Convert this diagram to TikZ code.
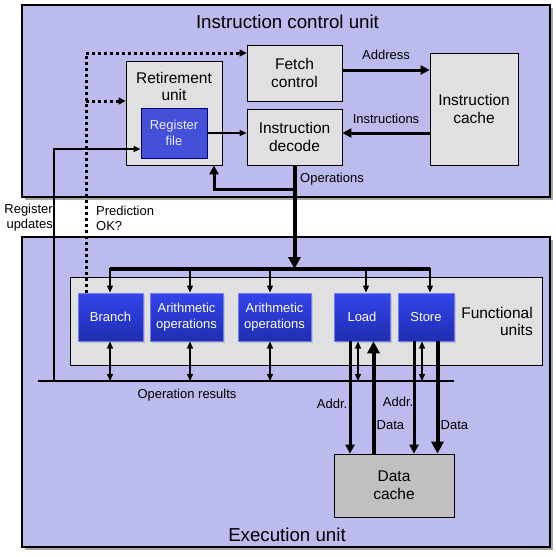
\documentclass[tikz,border=0pt]{standalone}
\usepackage{fontspec}
\setmainfont{Liberation Sans}
\usetikzlibrary{arrows.meta,shadows,calc}
\definecolor{lav}{HTML}{BBBBEE}
\definecolor{lgray}{HTML}{E0E0E0}
\definecolor{dgray}{HTML}{C0C0C0}
\definecolor{blutop}{HTML}{3444EC}
\definecolor{blubot}{HTML}{1F2EB0}
\definecolor{regblue}{HTML}{4450D8}
\begin{document}
\begin{tikzpicture}[x=1pt,y=-1pt,
  bigbox/.style={draw=black, line width=1.3pt, fill=lav, inner sep=0pt,
    drop shadow={shadow xshift=2.5pt, shadow yshift=-2.5pt, opacity=0.7}},
  graybox/.style={draw=black, line width=0.8pt, fill=lgray, inner sep=0pt, align=center,
    font=\fontsize{15.5}{18}\selectfont},
  fubox/.style={draw=blutop!70!white, line width=0.6pt, top color=blutop, bottom color=blubot,
    text=white, inner sep=0pt, align=center, font=\fontsize{13}{16}\selectfont,
    drop shadow={shadow xshift=1.5pt, shadow yshift=-1.5pt, opacity=0.3}},
  lbl/.style={font=\fontsize{13}{15}\selectfont, inner sep=0pt},
  title/.style={font=\fontsize{18.7}{22}\selectfont, inner sep=0pt},
  thin/.style={line width=1.3pt, -{Triangle[length=7pt,width=6pt]}},
  dbl/.style={line width=1.3pt, {Triangle[length=7pt,width=6pt]}-{Triangle[length=7pt,width=6pt]}},
  thickarr/.style={line width=3pt, -{Triangle[length=9pt,width=9pt]}},
  heavyarr/.style={line width=4pt, -{Triangle[length=12pt,width=12pt]}},
  dotline/.style={line width=3pt, dash pattern=on 3pt off 3pt},
]
\useasboundingbox (0,0) rectangle (556,557);

% big containers
\node[bigbox, minimum width=528pt, minimum height=192pt] (icu) at (286,101) {};
\node[bigbox, minimum width=528pt, minimum height=310pt] (eu) at (286,392) {};
\node[title] (icut) at (287.5,22) {Instruction control unit};
\node[title] (eut) at (287,535) {Execution unit};

% instruction control unit
\node[graybox, minimum width=95pt, minimum height=56pt] (fetch) at (294.5,73) {Fetch\\control};
\node[graybox, minimum width=95pt, minimum height=56pt] (decode) at (294.5,137) {Instruction\\decode};
\node[graybox, minimum width=96pt, minimum height=104pt] (retire) at (174,113) {};
\node[font=\fontsize{15.5}{17}\selectfont, align=center, inner sep=0pt] (retiret) at (174,86.5) {Retirement\\unit};
\node[draw=blue!50!black, line width=0.8pt, fill=regblue, text=blue!8!white, inner sep=0pt,
  align=center, font=\fontsize{13}{16}\selectfont, minimum width=66pt, minimum height=50pt] (regfile) at (174,133) {Register\\file};
\node[graybox, minimum width=88pt, minimum height=112pt] (icache) at (474,109) {Instruction\\cache};

\draw[thickarr] ($(fetch.east)+(0,-3)$) -- ($(icache.west)+(0,-39)$)
  node[lbl, midway, above=9pt] (addrl) {Address};
\draw[thickarr] ($(icache.west)+(0,24)$) -- ($(decode.east)+(0,-4)$)
  node[lbl, midway, above=8pt] (instrl) {Instructions};
\draw[thin] (regfile.east) -- (decode.west |- regfile.east);

% execution unit
\node[draw=black, line width=0.8pt, fill=lgray, minimum width=472pt, minimum height=88pt] (fu) at (306,321) {};
\node[font=\fontsize{15.5}{17}\selectfont, align=right, inner sep=0pt, anchor=east] (ful) at (533,321.5) {Functional\\units};
\node[fubox, minimum width=65pt, minimum height=48pt] (branch) at (110.5,317) {Branch};
\node[fubox, minimum width=73pt, minimum height=48pt] (ar1) at (186.5,317) {Arithmetic\\operations};
\node[fubox, minimum width=73pt, minimum height=48pt] (ar2) at (274.5,317) {Arithmetic\\operations};
\node[fubox, minimum width=56pt, minimum height=48pt] (load) at (362,317) {Load};
\node[fubox, minimum width=56pt, minimum height=48pt] (store) at (426,317) {Store};
\node[draw=black, line width=0.8pt, fill=dgray, inner sep=0pt, align=center,
  font=\fontsize{15.5}{18}\selectfont, minimum width=120pt, minimum height=63pt] (dcache) at (394,485.5) {Data\\cache};

% operation bus
\coordinate (busL) at (110,269);
\coordinate (busR) at (430,269);
\draw[line width=3.5pt] (busL) -- (busR);
\draw[heavyarr] (decode.south) -- (decode.south |- busL);
\coordinate (opj) at (294.5,189);
\coordinate (rtx) at (214,189);
\draw[line width=3pt, -{Triangle[length=9pt,width=9pt]}] (opj) -- (rtx) -- (rtx |- retire.south);
\node[lbl, anchor=west] (opl) at (300,179) {Operations};

\foreach \xx in {110,190,270,366,430}{
  \draw[thin] (\xx,267.5) -- (\xx,292.5);
}

% operation results
\coordinate (resL) at (38,381);
\coordinate (resR) at (454,381);
\draw[line width=1.4pt] (resL) -- (resR);
\node[lbl] (resl) at (187,395) {Operation results};
\foreach \xx in {110,190,270,358,422}{
  \draw[dbl] (\xx,341.5) -- (\xx,381);
}

% register updates
\coordinate (ru) at (54,381);
\draw[thin] (ru) -- (ru |- 0,149) -- (regfile.west |- 0,149);
\node[lbl, align=right, anchor=east] (rul) at (53,218) {Register\\updates};

% prediction
\coordinate (dtop) at (86,53);
\coordinate (dmid) at (86,101);
\draw[dotline] (branch.north -| dtop) -- (dtop) -- ($(fetch.west |- dtop)+(-5,0)$);
\draw[line width=1.3pt, -{Triangle[length=7pt,width=7pt]}] ($(fetch.west |- dtop)+(-8,0)$) -- (fetch.west |- dtop);
\draw[dotline] (dmid) -- ($(retire.west |- dmid)+(-5,0)$);
\draw[line width=1.3pt, -{Triangle[length=7pt,width=7pt]}] ($(retire.west |- dmid)+(-8,0)$) -- (retire.west |- dmid);
\node[lbl, align=left, anchor=west] (pl) at (96,218) {Prediction\\OK?};

% load/store to data cache
\coordinate (la) at (350,0);
\coordinate (ld) at (373.5,0);
\coordinate (sa) at (414,0);
\coordinate (sd) at (437.5,0);
\draw[thickarr] (load.south -| la) -- (dcache.north -| la);
\draw[heavyarr] (dcache.north -| ld) -- (load.south -| ld);
\draw[thickarr] (store.south -| sa) -- (dcache.north -| sa);
\draw[heavyarr] (store.south -| sd) -- (dcache.north -| sd);
\node[lbl, anchor=east] (lal) at (347.5,403.5) {Addr.};
\node[lbl, anchor=east] (sal) at (413.5,401.5) {Addr.};
\node[lbl, anchor=west] (ldl) at (376.5,425) {Data};
\node[lbl, anchor=west] (sdl) at (440.5,425) {Data};
\end{tikzpicture}
\end{document}
